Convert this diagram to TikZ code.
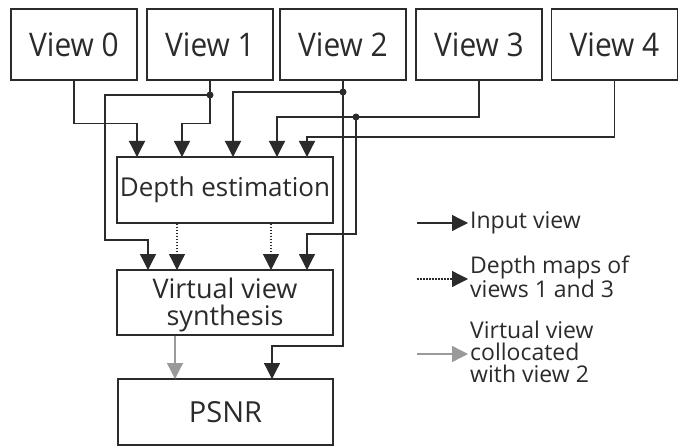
\documentclass[tikz,border=0pt]{standalone}
\usepackage{fontspec}
\newfontfamily\osans{Open Sans}
\newfontfamily\osansn{Open Sans}[FakeStretch=0.92]
\usetikzlibrary{arrows.meta}
\definecolor{ln}{HTML}{2B2B2B}
\definecolor{gr}{HTML}{9A9A9A}
\begin{document}
\begin{tikzpicture}[x=1pt,y=-1pt,
  box/.style={draw=ln,line width=1.3pt,inner sep=0pt,text=ln,align=center},
  viewbox/.style={box,minimum width=126pt,minimum height=71pt,font=\osansn\fontsize{32.5}{32}\selectfont},
  arr/.style={draw=ln,line width=1.3pt,-{Triangle[length=16pt,width=16pt]}},
  darr/.style={arr,dash pattern=on 1.5pt off 1.5pt},
  garr/.style={draw=gr,line width=1.3pt,-{Triangle[length=16pt,width=16pt]},fill=gr},
  lt/.style={text=ln,inner sep=2pt,anchor=west,align=left,font=\osans\fontsize{23}{22}\selectfont},
  dot/.style={fill=ln}]
\useasboundingbox (0,0) rectangle (682,446);
% input views
\node[viewbox] (v0) at (74,44.5) {\raisebox{-4pt}{View 0}};
\node[viewbox] (v1) at (210,44.5) {View 1};
\node[viewbox] (v2) at (343,44.5) {View 2};
\node[viewbox] (v3) at (479,44.5) {View 3};
\node[viewbox] (v4) at (614.5,44.5) {View 4};
% processing boxes
\node[box,minimum width=216pt,minimum height=66pt,font=\osans\fontsize{26}{26}\selectfont] (depth) at (225,190) {\raisebox{-1pt}{Depth estimation}};
\node[box,minimum width=216pt,minimum height=65pt] (vvs) at (225,302.5) {};
\node[text=ln,inner sep=0pt,align=center,font=\osans\fontsize{27}{27}\selectfont] (vvst) at (225,305) {Virtual view\\synthesis};
\node[box,minimum width=215pt,minimum height=66pt,font=\osans\fontsize{29}{29}\selectfont] (psnr) at (225.5,412) {PSNR};
% entry points
\coordinate (d0) at (137,157);
\coordinate (d1) at (182,157);
\coordinate (d2) at (233,157);
\coordinate (d3) at (277,157);
\coordinate (d4) at (307,157);
\coordinate (w0) at (148,270);
\coordinate (w1) at (177,270);
\coordinate (w2) at (271,270);
\coordinate (w3) at (307,270);
\coordinate (p0) at (175,379);
\coordinate (p1) at (272,379);
% junctions
\coordinate (j1) at (210,95);
\coordinate (j2) at (343,92);
\coordinate (j3) at (356,117);
% connectors
\draw[arr] (v0.south) -- ++(0,43) -| (d0);
\draw[arr] (v1.south) -- ++(0,43) -| (d1);
\draw[arr] (j1) -| (105,240) -| (w0);
\draw[arr] (v2.south) -- (343,346) -| (p1);
\draw[arr] (j2) -| (d2);
\draw[arr] (v3.south) -- (479,117) -| (d3);
\draw[arr] (j3) -- (356,234) -| (w3);
\draw[arr] (v4.south) -- (614.5,137) -| (d4);
\draw[darr] (depth.south -| w1) -- (w1);
\draw[darr] (depth.south -| w2) -- (w2);
\draw[garr] (vvs.south -| p0) -- (p0);
\fill[dot] (j1) circle (3.5pt);
\fill[dot] (j2) circle (3.5pt);
\fill[dot] (j3) circle (3.5pt);
% legend
\node[lt] (l1) at (468,223) {Input view};
\node[lt] (l2) at (468,277) {Depth maps of\\views 1 and 3};
\node[lt] (l3) at (468,352) {Virtual view\\collocated\\with view 2};
\coordinate (l1s) at (417,223);
\coordinate (l2s) at (417,279);
\coordinate (l3s) at (417,354);
\draw[arr] (l1s) -- (l1s -| l1.west);
\draw[darr] (l2s) -- (l2s -| l2.west);
\draw[garr] (l3s) -- (l3s -| l3.west);
\end{tikzpicture}
\end{document}
